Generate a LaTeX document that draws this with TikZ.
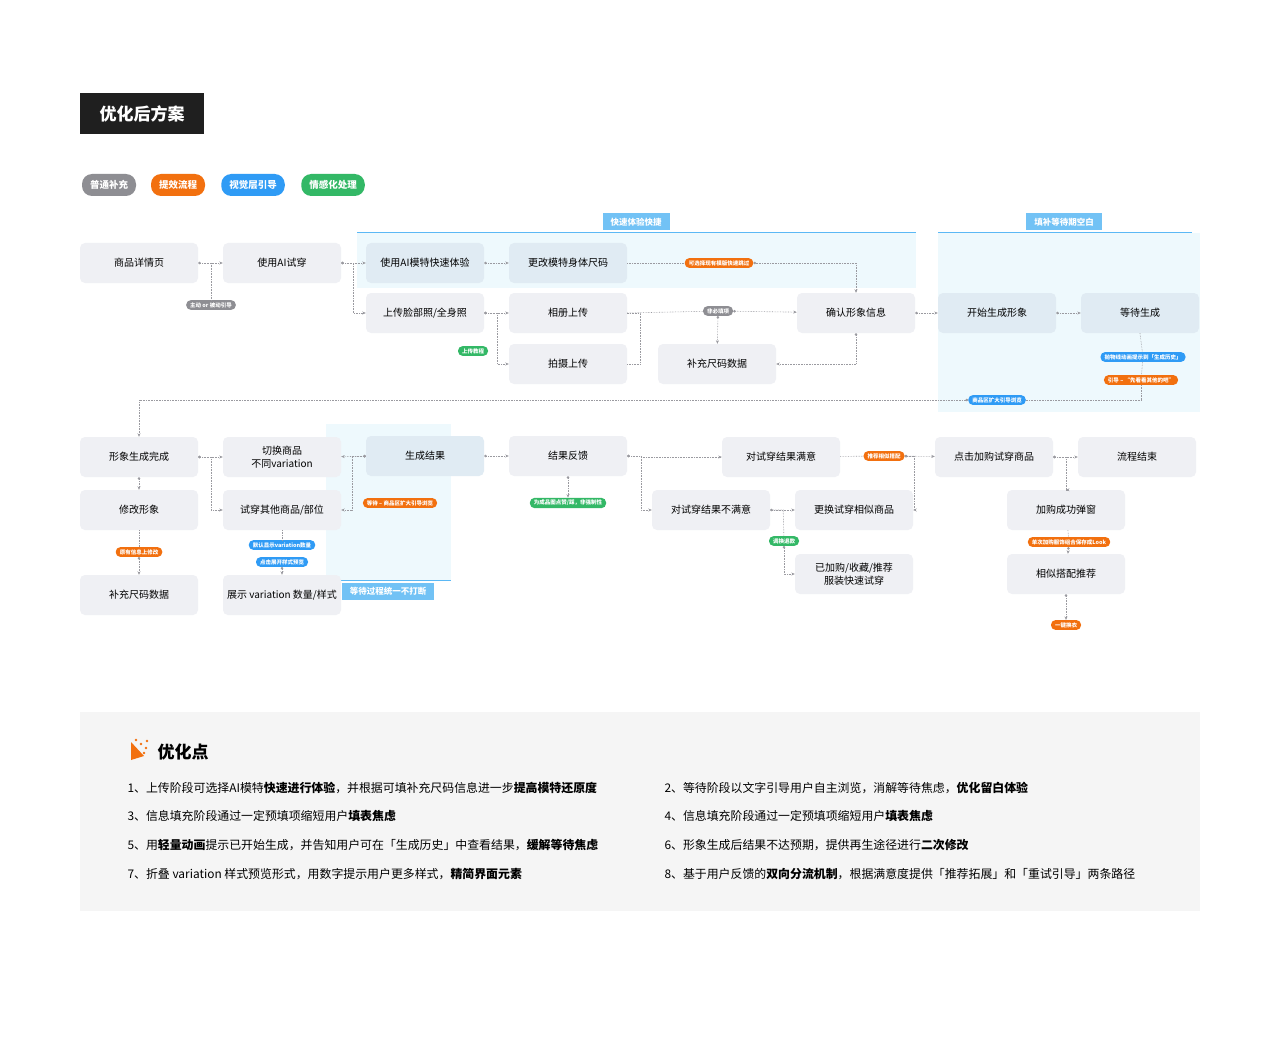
\documentclass[tikz,border=0pt]{standalone}
\usepackage{fontspec}
\setmainfont{Noto Sans CJK SC}
\usetikzlibrary{positioning,arrows.meta,calc}
\definecolor{boxgray}{HTML}{EFF0F4}
\definecolor{boxblue}{HTML}{E0EBF3}
\definecolor{zoneblue}{HTML}{EEF9FD}
\definecolor{lineblue}{HTML}{5BB8F5}
\definecolor{tagblue}{HTML}{72C2F5}
\definecolor{pillgray}{HTML}{8E8E93}
\definecolor{pillorange}{HTML}{F2700F}
\definecolor{pillblue}{HTML}{2F9BF5}
\definecolor{pillgreen}{HTML}{33B866}
\definecolor{linkgray}{HTML}{9A9AA0}
\tikzset{
  stepbox/.style={rectangle, rounded corners=5pt, fill=boxgray, minimum width=118pt, minimum height=40pt, align=center, font=\fontsize{10}{13.5}\selectfont},
  quickbox/.style={stepbox, fill=boxblue},
  pill/.style={rectangle, rounded corners=4.5pt, text=white, inner xsep=4pt, inner ysep=2.2pt, font=\fontsize{5.5}{6}\selectfont\bfseries},
  legend/.style={pill, rounded corners=10pt, minimum height=22pt, inner xsep=8pt, font=\fontsize{9.5}{10}\selectfont\bfseries},
  zonetag/.style={rectangle, fill=tagblue, text=white, minimum height=17pt, inner xsep=8pt, font=\fontsize{8.5}{9}\selectfont\bfseries},
  link/.style={draw=linkgray, densely dotted, line width=0.6pt, {Circle[length=2.5pt,fill=linkgray]}-{Stealth[length=3.5pt,width=3pt]}},
  plain/.style={draw=linkgray, densely dotted, line width=0.6pt},
  note/.style={anchor=west, font=\fontsize{11.9}{13}\selectfont}
}
\begin{document}
\begin{tikzpicture}[x=1pt, y=-1pt]
    \useasboundingbox (0,0) rectangle (1280,1051);
    \fill[white] (0,0) rectangle (1280,1051);

    % zones
    \fill[zoneblue] (357,233) rectangle (916,288);
    \draw[lineblue, line width=1pt] (357,233) -- (916,233);
    \node (tagquick) [zonetag] at (636,222) {快速体验快捷};
    \fill[zoneblue] (938,233) rectangle (1200,412);
    \draw[lineblue, line width=1pt] (938,233) -- (1192,233);
    \node (tagwait) [zonetag] at (1064,222) {填补等待期空白};
    \fill[zoneblue] (326,424) rectangle (451,580);
    \draw[lineblue, line width=1pt] (326,580) -- (451,580);
    \node (tagkeep) [zonetag] at (388,591) {等待过程统一不打断};

    % title and legend
    \node (title) [rectangle, fill=black!88, text=white, minimum width=124pt, minimum height=41pt, font=\fontsize{17}{18}\selectfont\bfseries] at (142,114) {优化后方案};
    \node (lg1) [legend, fill=pillgray] at (109,185) {普通补充};
    \node (lg2) [legend, fill=pillorange] at (178,185) {提效流程};
    \node (lg3) [legend, fill=pillblue] at (253,185) {视觉层引导};
    \node (lg4) [legend, fill=pillgreen] at (333,185) {情感化处理};

    % row 1-3
    \node (detail) [stepbox] at (139,263) {商品详情页};
    \node (aitry) [stepbox] at (282,263) {使用AI试穿};
    \node (quick) [quickbox] at (425,263) {使用AI模特快速体验};
    \node (resize) [quickbox] at (568,263) {更改模特身体尺码};
    \node (upload) [stepbox] at (425,313) {上传脸部照/全身照};
    \node (album) [stepbox] at (568,313) {相册上传};
    \node (shoot) [stepbox] at (568,364) {拍摄上传};
    \node (fillsize) [stepbox] at (717,364) {补充尺码数据};
    \node (confirm) [stepbox] at (856,313) {确认形象信息};
    \node (startgen) [quickbox] at (997,313) {开始生成形象};
    \node (waitgen) [quickbox] at (1140,313) {等待生成};

    % row 4-6
    \node (done) [stepbox] at (139,457) {形象生成完成};
    \node (switch) [stepbox] at (282,457) {切换商品\\不同variation};
    \node (result) [quickbox] at (425,456) {生成结果};
    \node (feedback) [stepbox] at (568,456) {结果反馈};
    \node (happy) [stepbox] at (781,457) {对试穿结果满意};
    \node (addcart) [stepbox] at (994,457) {点击加购试穿商品};
    \node (finish) [stepbox] at (1137,457) {流程结束};
    \node (modify) [stepbox] at (139,510) {修改形象};
    \node (other) [stepbox] at (282,510) {试穿其他商品/部位};
    \node (unhappy) [stepbox] at (711,510) {对试穿结果不满意};
    \node (similar) [stepbox] at (854,510) {更换试穿相似商品};
    \node (popup) [stepbox] at (1066,510) {加购成功弹窗};
    \node (refill) [stepbox] at (139,595) {补充尺码数据};
    \node (showvar) [stepbox] at (282,595) {展示 variation 数量/样式};
    \node (quicktry) [stepbox] at (854,574) {已加购/收藏/推荐\\服装快速试穿};
    \node (match) [stepbox] at (1066,574) {相似搭配推荐};

    % pills
    \node (pguide) [pill, fill=pillgray] at (211,305) {主动 or 被动引导};
    \node (pskip) [pill, fill=pillorange] at (719,263) {可选择现有模版快速跳过};
    \node (poption) [pill, fill=pillgray] at (718,311) {非必填项};
    \node (ptutor) [pill, fill=pillgreen] at (473,351) {上传教程};
    \node (phist) [pill, fill=pillblue] at (1143,357) {抛物线动画提示到「生成历史」};
    \node (plook) [pill, fill=pillorange] at (1141,380) {引导 – “先看看其他的吧”};
    \node (pbrowse) [pill, fill=pillblue] at (997,400) {商品区扩大引导浏览};
    \node (pwait) [pill, fill=pillorange] at (400,503) {等待 – 商品区扩大引导浏览};
    \node (plike) [pill, fill=pillgreen] at (568,503) {为成品图点赞/踩，非强制性};
    \node (pcount) [pill, fill=pillblue] at (282,545) {默认显示variation数量};
    \node (pexpand) [pill, fill=pillblue] at (282,562) {点击展开样式预览};
    \node (pkeep) [pill, fill=pillorange] at (139,552) {原有信息上修改};
    \node (precom) [pill, fill=pillorange] at (884,456) {推荐相似搭配};
    \node (prefund) [pill, fill=pillgreen] at (784,541) {调换退款};
    \node (psave) [pill, fill=pillorange] at (1069,542) {单次加购服饰组合保存成Look};
    \node (pchange) [pill, fill=pillorange] at (1066,625) {一键换衣};

    % connectors, upper part
    \draw [link] (detail) -- (aitry);
    \draw [plain] (211,263) -- (pguide);
    \draw [link] (aitry) -- (quick);
    \draw [link] (aitry.east) -- +(12,0) |- (upload.west);
    \draw [link] (quick) -- (resize);
    \draw [plain] (resize.east) -- (pskip);
    \draw [link] (pskip) -| (confirm.north);
    \draw [link] (upload) -- (album);
    \draw [link] (upload.east) -- +(13,0) |- (shoot.west);
    \draw [plain] (album.east) -- (poption);
    \draw [link] (poption) -- (confirm);
    \draw [plain] (shoot.east) -- +(13,0) |- (album.east);
    \draw [link] (poption) -- (fillsize);
    \draw [link] (confirm.south) |- (fillsize.east);
    \draw [link] (confirm) -- (startgen);
    \draw [link] (startgen) -- (waitgen);
    \draw [plain] (waitgen.south) -- (phist);
    \draw [plain] (phist) -- (plook);
    \draw [plain] (plook) |- (pbrowse);
    \draw [link] (pbrowse) -| (done.north);

    % connectors, lower part
    \draw [link] (done) -- (switch);
    \draw [link] (done.east) -- +(13,0) |- (other.west);
    \draw [link] (result) -- (switch);
    \draw [link] (result.west) -- +(-14,0) |- (other.east);
    \draw [link] (result) -- (feedback);
    \draw [link] (feedback) -- (plike);
    \draw [link] (feedback.east) -- +(14,0) |- (happy.west);
    \draw [link] (feedback.east) -- +(14,0) |- (unhappy.west);
    \draw [plain] (happy) -- (precom);
    \draw [link] (precom) -- (addcart);
    \draw [link] (precom.east) -- +(10,0) |- (similar.east);
    \draw [link] (unhappy) -- (similar);
    \draw [plain] (unhappy.east) -- +(13,0) -- (prefund);
    \draw [link] (prefund) |- (quicktry.west);
    \draw [link] (addcart) -- (finish);
    \draw [link] (addcart.east) -- +(13,0) |- (popup.north);
    \draw [plain] (popup) -- (psave);
    \draw [link] (psave) -- (match);
    \draw [link] (match) -- (pchange);
    \draw [link] (done) -- (modify);
    \draw [plain] (modify) -- (pkeep);
    \draw [link] (pkeep) -- (refill);
    \draw [plain] (other) -- (pcount);
    \draw [link] (pexpand) -- (showvar);

    % notes panel
    \fill[black!4] (80,712) rectangle (1200,911);
    % spark icon
    \fill[pillorange] (131,742) -- (131,760) -- (144,756) -- cycle;
    \foreach \dx/\dy in {136/740, 141/744, 146/748, 147/741, 144/753}
        \fill[pillorange] (\dx,\dy) circle (1.3pt);
    \node (notehead) [anchor=west, font=\fontsize{17}{18}\selectfont\bfseries] at (154,752) {优化点};
    \node (n1) [note] at (124,788) {1、上传阶段可选择AI模特\textbf{快速进行体验}，并根据可填补充尺码信息进一步\textbf{提高模特还原度}};
    \node (n2) [note] at (661,788) {2、等待阶段以文字引导用户自主浏览，消解等待焦虑，\textbf{优化留白体验}};
    \node (n3) [note] at (124,816) {3、信息填充阶段通过一定预填项缩短用户\textbf{填表焦虑}};
    \node (n4) [note] at (661,816) {4、信息填充阶段通过一定预填项缩短用户\textbf{填表焦虑}};
    \node (n5) [note] at (124,845) {5、用\textbf{轻量动画}提示已开始生成，并告知用户可在「生成历史」中查看结果，\textbf{缓解等待焦虑}};
    \node (n6) [note] at (661,845) {6、形象生成后结果不达预期，提供再生途径进行\textbf{二次修改}};
    \node (n7) [note] at (124,874) {7、折叠 variation 样式预览形式，用数字提示用户更多样式，\textbf{精简界面元素}};
    \node (n8) [note] at (661,874) {8、基于用户反馈的\textbf{双向分流机制}，根据满意度提供「推荐拓展」和「重试引导」两条路径};
\end{tikzpicture}
\end{document}
